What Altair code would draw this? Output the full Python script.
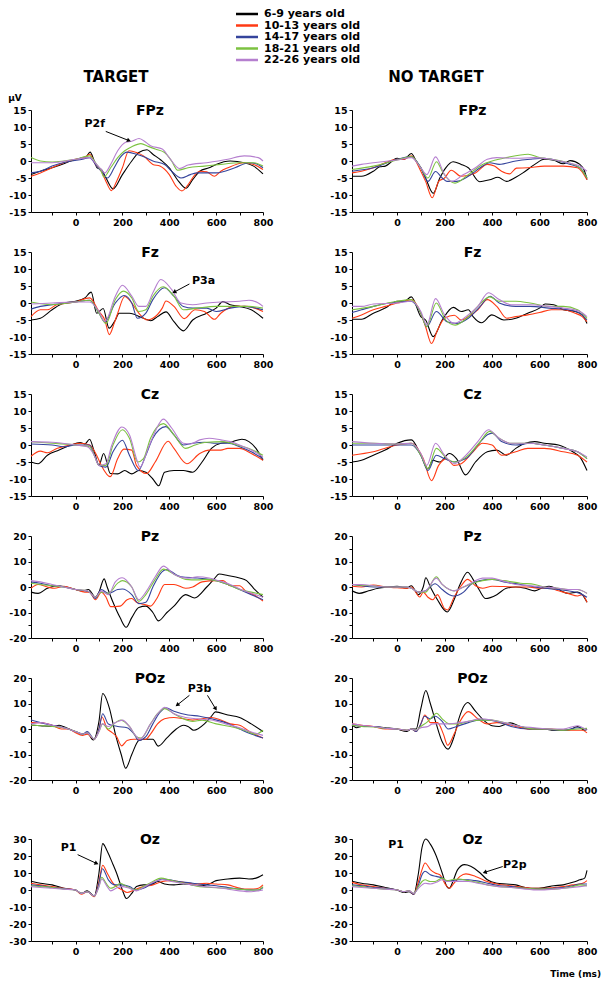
import math
import altair as alt
import pandas as pd

GROUPS = ["6-9 years old", "10-13 years old", "14-17 years old", "18-21 years old", "22-26 years old"]
COLORS = ["#000000", "#ff3a14", "#35449c", "#7cc241", "#b57fcf"]
XTICKS = list(range(-100, 801, 100))

fpz_target = {
    "6-9 years old": [(-190,-4),(-150,-3),(-100,-2),(-50,-0.8),(-20,0),(20,0.8),(45,1.2),(62,2.6),(80,0),(92,-2),(110,-2.5),(130,-5),(160,-8.2),(200,-4),(240,0),(270,2.5),(305,3.3),(330,2),(364,0.3),(400,-2),(440,-6),(471,-8),(500,-5.5),(530,-3),(570,-2),(600,-1),(660,0),(720,-0.5),(760,-1.5),(800,-3.8)],
    "10-13 years old": [(-190,-4.5),(-150,-3.5),(-100,-2),(-50,-0.5),(0,0.5),(40,1),(60,2),(85,-1),(110,-3),(130,-6),(153,-8.7),(175,-6),(200,-2),(228,3),(260,2.5),(290,1.5),(330,-1),(360,-1.5),(400,-4),(430,-7.5),(454,-8.8),(480,-7),(510,-4),(530,-3),(560,-3.2),(593,-4.5),(620,-3),(650,-2),(720,-0.5),(760,-1),(800,-2.5)],
    "14-17 years old": [(-190,-3.5),(-150,-3),(-100,-1.5),(-20,0),(30,0.5),(60,1),(90,-1.5),(110,-3),(136,-5),(165,-2),(190,1),(221,2.6),(260,2),(300,1),(330,0),(380,-1),(410,-3),(450,-5),(490,-4),(520,-3.5),(600,-3.5),(680,-2),(740,-0.5),(770,-0.8),(800,-2)],
    "18-21 years old": [(-190,1),(-150,0),(-100,-0.3),(-50,0),(0,0.5),(60,1.5),(90,-1),(110,-3),(121,-4.7),(150,-2),(180,1),(210,3),(240,4.2),(279,5.1),(310,4.3),(340,3.5),(380,2.5),(410,0),(436,-2.7),(480,-2),(550,-1.5),(620,-1),(700,-0.5),(760,-0.5),(800,-1.5)],
    "22-26 years old": [(-190,-0.5),(-100,-0.5),(0,0.5),(60,1),(90,-1),(110,-2.5),(125,-3.5),(150,-1),(180,3),(214,5.5),(240,5.8),(271,6.6),(300,5.5),(320,4.5),(370,3.5),(400,1),(443,-2.2),(480,-1.2),(560,-0.5),(650,0.5),(720,1.5),(780,1),(800,0)],
}
fpz_nontarget = {
    "6-9 years old": [(-190,-4.5),(-150,-4.5),(-100,-3),(-73,-1.7),(-50,-1.5),(0,0.8),(30,0.5),(60,2.2),(80,0),(100,-2),(120,-5),(152,-9.5),(180,-5),(205,-2),(236,-0.2),(270,-1),(300,-2),(348,-6.1),(390,-5.5),(425,-4.8),(461,-6),(500,-4.8),(530,-3.5),(580,-1),(620,0.5),(660,0.2),(700,-0.8),(729,0.1),(770,-1),(790,-3),(800,-5.5)],
    "10-13 years old": [(-190,-3.5),(-150,-3),(-100,-2),(-50,-0.5),(0,0.5),(30,0.5),(60,1.5),(100,-3),(120,-6),(148,-10.8),(175,-6),(200,-5),(228,-2.7),(270,-4.5),(330,-3.5),(380,-1),(410,-1.5),(440,-3),(474,-3.8),(503,-2.1),(550,-2),(620,-1.5),(700,-1.5),(760,-2),(800,-5.5)],
    "14-17 years old": [(-190,-3),(-100,-2),(0,0.5),(60,1.3),(100,-2),(130,-6),(162,-3.1),(190,-5),(210,-6),(250,-6),(300,-4.5),(350,-2),(390,-0.5),(430,-1),(500,0),(560,0.5),(620,0.8),(680,0),(730,-1),(770,-2),(800,-5)],
    "18-21 years old": [(-190,-2.5),(-100,-1.5),(0,0.3),(60,1.3),(100,-2),(130,-5),(166,-0.2),(190,-3),(210,-5),(244,-6.5),(300,-4),(360,-1),(400,0),(460,1),(552,2),(600,1),(650,0.5),(720,-0.5),(770,-2),(800,-5)],
    "22-26 years old": [(-190,-1.5),(-150,-1),(-100,-0.5),(0,0.3),(60,1),(100,-2),(125,-4),(162,1.2),(200,-4),(230,-6),(280,-4),(330,-2),(380,0.5),(420,1),(500,0.8),(580,1),(650,0.5),(720,-0.5),(770,-1.5),(800,-3)],
}
fz_target = {
    "6-9 years old": [(-190,-5),(-150,-4.5),(-100,-2),(-50,0),(0,0.5),(40,1.5),(67,3.2),(90,-3),(118,-1.6),(143,-7.4),(170,-5),(186,-3),(230,-3),(290,-4.5),(321,-5.2),(350,-4),(386,-2.6),(420,-5.5),(460,-8.2),(500,-5),(560,-3),(600,-1.5),(629,0.4),(660,-0.5),(700,-1),(750,-2),(800,-4.5)],
    "10-13 years old": [(-190,-4),(-150,-2),(-120,-2),(-80,-0.5),(0,0.3),(60,1.5),(100,-2.5),(125,-5),(144,-9.3),(165,-6),(180,-3),(210,1.9),(240,0),(270,-3),(307,-5),(330,-4.5),(370,-1.5),(386,0.6),(420,-1),(464,-4.6),(510,-2),(550,-2.5),(593,-4.8),(620,-3),(680,-1),(730,-1),(800,-2.5)],
    "14-17 years old": [(-190,-1.8),(-150,-1),(-100,-0.5),(0,0.3),(60,0.8),(100,-3),(125,-5.5),(170,0),(207,2.2),(240,0),(264,-4.5),(300,-3),(330,1),(379,4.5),(420,2),(460,-1),(500,-1.5),(560,-1.5),(600,-2.5),(660,-1.5),(720,-1),(800,-2)],
    "18-21 years old": [(-190,0.3),(-100,-0.5),(0,0.3),(60,0.8),(100,-3),(130,-6),(170,1),(205,3.5),(240,1.5),(270,-2.5),(300,-2),(330,2),(375,4.8),(420,2),(460,-2),(520,-1.5),(600,-1),(680,-1),(740,-1),(800,-1.5)],
    "22-26 years old": [(-190,-0.3),(-100,0),(0,0.3),(60,0.3),(100,-2.5),(125,-5.5),(170,2),(200,5.2),(240,2),(270,-1),(300,-1),(330,3),(364,6.9),(410,4),(450,0),(500,-0.5),(560,0),(620,0.3),(700,0.5),(740,0.8),(780,0),(800,-1)],
}
fz_nontarget = {
    "6-9 years old": [(-190,-4.8),(-150,-4.8),(-100,-3),(-50,-1.5),(0,0.5),(30,0.5),(60,1.8),(100,-4),(120,-5),(152,-9.9),(190,-5),(237,-1.3),(270,-2.5),(300,-2),(320,-4),(356,-5.8),(399,-3.5),(450,-5),(500,-4.5),(550,-3),(600,-1.5),(624,-0.3),(660,-0.5),(700,-2),(750,-2.5),(780,-3.5),(800,-6)],
    "10-13 years old": [(-190,-4.5),(-150,-3.5),(-100,-2),(-50,-1),(0,0),(30,0.5),(60,1),(100,-3),(120,-7),(145,-11.9),(170,-8),(200,-4.5),(241,-3.6),(270,-5),(300,-4),(340,-2),(380,1),(420,-1),(462,-4.5),(500,-4),(550,-3.5),(600,-2.8),(650,-2),(700,-2),(750,-3),(780,-4),(800,-5.5)],
    "14-17 years old": [(-190,-2.8),(-150,-2),(-100,-1),(0,0.3),(60,0.5),(100,-3),(125,-7),(165,-2.5),(210,-5.5),(250,-6),(300,-4.5),(350,-1),(392,2),(430,0),(500,-1),(560,-1),(640,-1.5),(720,-2),(770,-3),(800,-5)],
    "18-21 years old": [(-190,-2),(-100,-1),(0,0.5),(60,1),(100,-3),(125,-7),(165,0),(205,-5),(245,-6.5),(300,-4),(340,-1),(390,1.8),(430,0.5),(500,0.5),(560,0),(640,-1),(700,-1),(760,-2),(800,-4.5)],
    "22-26 years old": [(-190,-1),(-150,-1),(-100,-0.3),(0,0),(60,0.5),(100,-2.5),(125,-6.5),(162,1.3),(200,-3.5),(240,-6),(290,-4),(340,-1),(385,3),(430,1),(480,-0.5),(560,-0.5),(640,-1),(700,-1.5),(770,-2.5),(800,-4)],
}
cz_target = {
    "6-9 years old": [(-190,-5),(-160,-5.5),(-120,-3),(-70,-1.5),(-20,0),(20,0.7),(40,0.3),(60,1.7),(80,-2),(100,-6),(120,-2.5),(149,-8.4),(180,-8.5),(210,-7.5),(240,-8.5),(270,-7.5),(300,-8),(330,-10),(355,-12),(380,-8),(420,-7.5),(460,-7.5),(500,-8),(540,-5),(580,-1),(620,0.5),(660,0.8),(710,1.7),(740,1),(770,-1),(800,-4.5)],
    "10-13 years old": [(-190,-3.3),(-150,-1.8),(-120,-2.3),(-80,-1),(-20,0),(20,0.5),(60,0),(90,-3),(110,-6),(148,-9.3),(180,-4),(206,-1.2),(240,-1.5),(260,-6),(303,-8.4),(340,-5),(395,1.1),(420,-1),(475,-5.5),(530,-2.5),(570,-1.5),(620,-1.5),(650,-1),(700,-1),(750,-2.5),(800,-4.5)],
    "14-17 years old": [(-190,0.3),(-100,0),(-50,-0.5),(0,0),(60,0),(80,-3),(100,-6),(130,-6.5),(160,-2),(200,1.4),(230,-3),(268,-7.5),(300,-3),(330,2),(385,5.4),(420,3),(460,0),(500,0.5),(550,0.8),(600,0.5),(650,0.5),(700,-0.5),(750,-2),(800,-4)],
    "18-21 years old": [(-190,1),(-100,0.5),(0,0),(60,-0.5),(80,-3),(100,-6),(130,-6),(160,0),(200,4.5),(230,2),(265,-5),(290,-4),(320,2),(375,6.3),(420,3),(470,-1),(510,0),(560,0.8),(630,1),(690,0),(740,-1),(800,-3)],
    "22-26 years old": [(-190,1),(-100,0.8),(0,0),(50,-0.5),(80,-3),(100,-6),(130,-5.5),(155,0),(198,5.3),(230,3),(260,-4),(275,-6.5),(310,-1),(340,4),(375,7.6),(410,5),(460,0.5),(490,0.3),(530,1.5),(570,2),(620,1.5),(660,1),(700,0),(750,-1.5),(800,-3.5)],
}
cz_nontarget = {
    "6-9 years old": [(-190,-5),(-150,-4.5),(-100,-3),(-50,-1.5),(0,0.5),(60,1.5),(100,-3),(130,-7),(150,-4.5),(180,-5),(220,-2.5),(250,-4),(288,-8.8),(330,-5),(380,-2),(420,-1.5),(460,-3),(500,-1),(540,0.5),(580,1),(620,0.5),(680,0),(740,-2),(770,-3.5),(800,-7.5)],
    "10-13 years old": [(-190,-3),(-100,-2),(0,0),(60,0.5),(110,-4),(145,-10.5),(175,-6),(208,-4),(240,-6),(270,-5.5),(320,-2),(360,0.5),(400,0),(440,-3),(500,-2),(550,-1),(620,-1),(700,-2),(760,-3),(800,-5)],
    "14-17 years old": [(-190,0),(-100,0),(0,0),(60,0),(100,-3),(130,-7.5),(165,-3),(200,-4),(240,-5),(290,-4),(340,0),(380,3),(400,3.5),(440,1),(500,0),(560,0.5),(620,0),(700,-1),(760,-2),(800,-4)],
    "18-21 years old": [(-190,0.5),(-100,0.5),(0,0.3),(60,0.5),(100,-3),(130,-7),(165,-1),(210,-4),(245,-5),(300,-3),(350,1),(390,4),(430,2),(480,0.5),(550,0.5),(620,0),(700,-1),(760,-2),(800,-4)],
    "22-26 years old": [(-190,1),(-100,0.5),(0,0.3),(60,0.5),(100,-2.5),(125,-6),(162,0.5),(200,-3),(240,-5.5),(290,-3),(340,1),(385,4.5),(430,2),(480,0.5),(550,0.5),(620,0),(700,-1),(760,-2),(800,-3.5)],
}
pz_target = {
    "6-9 years old": [(-190,-2),(-160,-2.5),(-120,-0.5),(-80,0.5),(-40,0),(0,-1),(30,-1.5),(55,-1),(85,-4),(100,-2),(122,3.2),(135,0),(160,-6),(190,-12),(216,-15.8),(240,-12),(270,-8),(300,-7.5),(330,-10),(354,-13.3),(390,-10),(420,-7.5),(470,-3),(508,-4.3),(560,0),(590,3),(613,5.1),(650,4.5),(700,3.5),(730,2.5),(760,-0.5),(800,-4)],
    "10-13 years old": [(-190,-0.5),(-160,1),(-120,0),(-90,-0.5),(-50,0.3),(0,-1),(40,-2),(60,-2),(85,-5),(110,-2),(130,-4),(150,-7.7),(190,-7.5),(220,-5),(240,-4.5),(260,-6),(300,-7),(320,-7.5),(350,-4),(380,1),(420,1),(470,-0.5),(500,0),(540,2),(600,2.5),(630,2.5),(660,0.5),(700,0.5),(730,-2),(760,-3),(800,-5.5)],
    "14-17 years old": [(-190,2),(-150,1.5),(-100,0.5),(-50,0),(0,-1),(40,-1.5),(60,-2),(85,-4.5),(110,-1),(140,-2.5),(180,-1),(200,-0.8),(240,-3),(270,-6.5),(300,-6),(330,0),(370,6),(385,6.8),(450,4),(520,3.5),(570,3),(600,2.5),(650,1),(700,-1),(750,-3),(800,-5)],
    "18-21 years old": [(-190,1.5),(-150,1),(-100,0.5),(-50,0),(0,-1),(50,-1.5),(85,-4),(110,-2),(140,-2.5),(180,1.5),(200,2.5),(240,0),(270,-5.6),(300,-3),(340,3),(375,7),(420,5),(470,3),(520,2.8),(560,3),(600,2.5),(650,1),(700,-1),(750,-2),(800,-3)],
    "22-26 years old": [(-190,2.5),(-150,2),(-100,1),(-50,0),(0,-1),(50,-1.5),(85,-4),(110,-1.5),(140,-3),(170,2),(199,3.6),(240,0),(270,-5),(300,-2),(340,4),(375,8.2),(420,5),(480,3.5),(520,4),(570,3.5),(610,2.5),(660,1),(720,-1.5),(770,-3),(800,-4)],
}
pz_nontarget = {
    "6-9 years old": [(-190,-1.5),(-160,-2.5),(-120,-1.5),(-80,-0.5),(-40,0),(0,0.3),(40,-0.5),(60,0.5),(90,-3),(110,0),(121,3.6),(140,0),(170,-5),(211,-9.8),(240,-5),(265,1),(297,5.8),(320,3),(345,-1),(373,-4.5),(420,-3),(460,-0.5),(500,0),(540,-0.5),(580,-1.5),(620,0),(640,0.3),(680,-1),(720,-2.5),(760,-2),(780,-3),(800,-6)],
    "10-13 years old": [(-190,0.3),(-150,0),(-100,0.8),(-50,0),(0,-0.3),(40,-0.5),(60,0),(96,-3.9),(110,-2),(130,-4),(150,-5),(170,-3),(200,-8.5),(212,-9),(240,-4),(270,0.5),(297,3),(330,0.5),(360,-0.5),(400,0.3),(450,0.2),(500,0),(550,0),(600,-0.5),(640,-0.5),(680,-1.5),(720,-2.5),(760,-3.5),(780,-3),(800,-6)],
    "14-17 years old": [(-190,1),(-150,0.5),(-100,0),(-50,0),(0,0),(40,0),(60,-0.5),(90,-2),(120,-1.5),(160,1.3),(190,-1),(220,-3),(240,-3.5),(280,-2),(310,1),(350,2.5),(400,3),(450,2),(520,1),(580,0),(620,-0.5),(680,-1),(720,-1.5),(770,-2.5),(800,-4)],
    "18-21 years old": [(-190,1),(-150,0.7),(-100,0.5),(-50,0),(0,0),(40,0),(60,-0.5),(90,-2),(120,-2),(165,4),(190,1),(220,-1),(240,-1.5),(280,0),(320,1.5),(360,2.5),(400,3),(450,2.5),(520,1.5),(580,1),(620,0),(680,-0.5),(720,-1),(760,-1),(800,-2.5)],
    "22-26 years old": [(-190,1),(-150,1),(-100,0.5),(-50,0),(0,0),(40,0),(60,-0.5),(90,-2),(120,-1.5),(165,3.5),(190,1),(220,-1),(240,-1.5),(280,0),(320,2),(360,3.5),(400,3.5),(440,2.5),(500,1),(560,0.5),(620,0),(680,-0.5),(720,-1),(760,-1),(800,-2.5)],
}
poz_target = {
    "6-9 years old": [(-190,1.5),(-150,1.3),(-100,1),(-70,1.5),(-40,0.5),(0,-1),(30,-2),(50,-1.5),(76,-4.3),(100,3),(116,13.9),(145,8),(170,-2),(195,-10),(214,-15.4),(240,-10),(270,-4.5),(300,-4),(330,-4),(353,-6.7),(390,-3.5),(430,0),(460,1.5),(480,1),(505,-0.5),(550,2),(580,5),(597,6.7),(650,5.5),(700,4.5),(750,2),(800,-1)],
    "10-13 years old": [(-190,2.5),(-150,2.5),(-100,1.5),(-60,0),(-30,0),(0,-1.5),(30,-2.5),(50,-2),(80,-4),(100,0),(113,4.7),(135,0),(150,-1),(175,-3),(197,-6.6),(220,-4.5),(250,-4),(300,-4),(320,-2),(350,2),(380,4),(420,4.5),(460,4),(500,3.5),(540,4),(580,4.5),(620,3.5),(660,2),(700,1.5),(750,-1.5),(800,-3.5)],
    "14-17 years old": [(-190,3.5),(-150,2.5),(-100,1.5),(-50,0.5),(0,-1),(30,-2),(50,-1),(80,-4),(100,0),(116,6),(140,2),(180,1),(220,0.5),(250,-2),(270,-4.5),(300,-3),(330,2),(360,6.5),(385,8.3),(420,7),(480,5.5),(530,5),(580,4),(640,2.5),(700,0),(750,-2),(800,-3.5)],
    "18-21 years old": [(-190,1.5),(-150,1.3),(-100,1),(-50,0.5),(0,-1),(30,-2),(50,-1.5),(80,-4),(100,-1),(115,2),(140,0),(170,2.5),(194,3.5),(230,1),(260,-3),(280,-3.5),(320,2),(350,6),(380,8),(420,6),(460,4),(500,3),(540,3.5),(600,2),(660,1),(720,-0.5),(770,-2),(800,-0.5)],
    "22-26 years old": [(-190,2),(-150,2.5),(-100,1.5),(-50,0.5),(0,-1),(30,-2),(50,-1.5),(80,-4),(100,-1),(115,2),(140,1),(170,2.5),(200,3.5),(230,1),(260,-3),(275,-4),(320,2),(360,7),(380,8.5),(420,6),(470,4.5),(520,4),(580,3.5),(640,2),(700,0.5),(760,-1.5),(800,-2.5)],
}
poz_nontarget = {
    "6-9 years old": [(-190,1.5),(-170,0.5),(-150,1),(-100,1),(-50,0.5),(0,0),(40,-1),(60,0),(80,0),(100,8),(121,15.1),(140,10),(165,2),(190,-5),(215,-7.9),(240,-3),(260,4),(285,9.5),(297,10.4),(330,7),(370,3),(400,1.3),(430,1),(460,2),(476,2.4),(520,1),(560,0),(620,0),(660,-0.5),(720,-0.5),(760,1),(790,-0.5),(800,0)],
    "10-13 years old": [(-190,2),(-150,1.5),(-100,1),(-50,0),(0,0),(40,-0.5),(60,0),(80,-1),(100,2),(117,5.5),(140,2.5),(170,2.5),(195,-2),(213,-6.4),(240,-2),(265,3),(300,6.8),(340,4),(380,2),(420,2.5),(460,2),(500,1),(560,0),(600,0),(650,0),(700,-0.5),(750,-0.5),(780,-0.5),(800,-1.5)],
    "14-17 years old": [(-190,1.8),(-150,1),(-100,1),(-50,0.3),(0,0),(40,-0.5),(60,0),(80,-1),(100,2),(115,5),(140,4),(160,5),(190,3),(215,0),(250,1),(300,2.5),(340,3.5),(380,3.5),(420,3),(480,1),(560,0),(620,0),(700,-0.5),(760,0.5),(800,0)],
    "18-21 years old": [(-190,1.5),(-150,1),(-100,0.8),(-50,0.3),(0,0),(40,-0.5),(60,0),(80,-0.5),(100,1),(130,3),(150,5),(166,6.2),(190,4),(220,2),(260,2),(300,3),(350,3.5),(400,3.5),(450,2.5),(520,1),(580,0),(640,0),(700,-0.5),(760,0),(800,0.3)],
    "22-26 years old": [(-190,2),(-150,1.5),(-100,1),(-50,0.3),(0,0),(40,-0.5),(60,0),(80,-0.5),(100,0.5),(130,1),(150,2),(180,2),(210,2),(250,2.3),(300,3),(350,4),(400,3.5),(450,2.5),(520,1),(580,0.5),(640,0),(700,0),(760,1.3),(800,-0.5)],
}
oz_target = {
    "6-9 years old": [(-190,5.2),(-150,4),(-100,3),(-50,1),(0,0),(25,-2),(50,-0.5),(80,-3.5),(100,10),(116,27.3),(135,23),(160,15),(175,10),(200,0),(217,-5),(240,-2),(260,2),(290,3),(320,3),(350,5),(380,3.5),(420,3),(460,3.5),(500,3),(540,2.5),(570,3.5),(600,5.5),(650,6.5),(700,7),(740,6.5),(770,7),(800,9)],
    "10-13 years old": [(-190,4),(-150,3),(-100,2),(-50,1),(0,0),(25,-2.5),(50,-1),(80,-4),(100,5),(116,14.6),(135,10),(160,4),(180,1.5),(200,0),(220,-1.5),(250,0),(290,2),(330,3),(370,5),(400,5.5),(440,5),(480,4),(520,3.5),(560,4),(600,3.5),(650,3),(690,1.5),(720,0.5),(750,0.5),(780,1),(800,3)],
    "14-17 years old": [(-190,3),(-150,2.5),(-100,1.5),(-50,0.8),(0,0),(25,-2),(50,-1),(80,-3.5),(100,4),(115,12.5),(140,6),(170,3),(200,3),(230,2),(260,0),(290,1),(330,4),(370,6.5),(400,6),(440,5),(500,4),(560,3),(600,2.5),(650,1.5),(700,0.5),(750,0),(780,0),(800,1.5)],
    "18-21 years old": [(-190,2.5),(-150,2),(-100,1.5),(-50,0.5),(0,0),(25,-2),(50,-1),(80,-3.5),(100,2),(112,7.5),(130,4),(150,1),(180,3),(190,4),(220,2),(260,0),(290,2),(330,5),(365,7),(400,6),(440,4.5),(480,3.5),(530,2),(580,1.5),(640,1),(700,0.5),(750,0),(780,0),(800,2)],
    "22-26 years old": [(-190,2),(-150,1.5),(-100,1),(-50,0.5),(0,0),(25,-2),(50,-1),(80,-3.5),(100,2),(112,6.5),(135,2),(150,-0.5),(180,1.5),(200,2),(230,1),(260,-0.5),(290,1.5),(330,4.5),(370,6),(410,5),(450,4),(500,3),(550,2),(600,1.5),(650,0.5),(700,-0.5),(750,-1),(780,-0.5),(800,0)],
}
oz_nontarget = {
    "6-9 years old": [(-190,5.2),(-150,4),(-100,3),(-50,1.5),(0,0),(30,-1.5),(50,-1),(70,-2.5),(90,10),(105,25),(121,30),(140,27),(165,20),(190,10),(210,2),(220,1),(235,5),(255,12),(284,14.9),(310,14),(350,10),(380,6),(420,4),(460,3.5),(500,3),(540,1.5),(580,1),(620,1.5),(660,2.5),(700,3),(740,4.5),(770,6),(790,7),(800,11.5)],
    "10-13 years old": [(-190,4.5),(-150,3),(-100,2),(-50,1),(0,0),(30,-1),(50,-0.5),(70,-2.5),(90,5),(105,12),(118,15.9),(140,12),(160,10),(180,9),(205,3),(220,1),(240,4),(265,8),(290,9.5),(330,8),(370,5.5),(420,3.5),(480,2.5),(540,1.5),(580,1),(620,1),(660,1.5),(700,2),(740,3),(770,3.5),(790,4.5),(800,5.5)],
    "14-17 years old": [(-190,3),(-150,2.5),(-100,1.5),(-50,1),(0,0),(30,-1),(50,-0.5),(70,-2.5),(90,3),(105,9),(118,11),(140,9),(165,8),(190,7),(210,5),(230,5.5),(260,6),(300,6),(330,5.5),(380,4),(430,2.5),(480,2),(540,1),(600,0.5),(660,1),(700,1.5),(740,2.5),(770,3.5),(800,3.5)],
    "18-21 years old": [(-190,2.5),(-150,2),(-100,1),(-50,0.5),(0,0),(30,-1),(50,-0.5),(70,-2),(90,2),(105,5),(118,6),(140,5),(160,5),(190,7),(210,5.5),(230,6),(260,6.5),(300,5.5),(340,4.5),(380,3),(430,2),(480,1.5),(540,1),(600,0.5),(660,0.5),(700,1),(740,2),(770,3),(800,2.5)],
    "22-26 years old": [(-190,2),(-150,1.5),(-100,1),(-50,0.5),(0,0),(30,-1),(50,-0.5),(70,-2),(90,1),(105,3),(118,4),(140,3.5),(165,4.5),(190,6),(210,5),(230,5),(260,5),(300,5),(340,4),(380,3),(430,2),(480,1.5),(540,0.5),(600,0),(660,0.5),(700,1),(740,1.5),(770,2),(800,2.5)],
}

# annotation labels (label, time ms, amplitude µV) and arrows (t1, v1, t2, v2)
notes_fpz_t = [("P2f", 82, 10.8)]
arrows_fpz_t = [(129, 8.7, 228, 6.0)]
notes_fz_t = [("P3a", 546, 6.5)]
arrows_fz_t = [(486, 5.6, 421, 3.2)]
notes_poz_t = [("P3b", 529, 15.5)]
arrows_poz_t = [(486, 13.2, 434, 9.4), (563, 13.2, 598, 7.9)]
notes_oz_t = [("P1", -30, 24.8)]
arrows_oz_t = [(9, 20.8, 90, 15.6)]
notes_oz_n = [("P1", -4, 26.5), ("P2p", 496, 15)]
arrows_oz_n = [(445, 13.8, 369, 10.4)]

WL = 232
WR = 235
H = 102
GAP = 89
FONT = "DejaVu Sans"
color_scale = alt.Scale(domain=GROUPS, range=COLORS)


def label_layer(text, x, y, size, align="center"):
    return alt.Chart(pd.DataFrame({"lab": [text]})).mark_text(
        fontSize=size, fontWeight="bold", align=align, baseline="middle", color="black"
    ).encode(text="lab:N", x=alt.value(x), y=alt.value(y))


def panel(series, name, ymax, step, minor, W, notes=(), arrows=(), extras=(), legend=False):
    rows = []
    for g in GROUPS:
        for t, v in series[g]:
            rows.append({"group": g, "t": t, "v": v})
    df = pd.DataFrame(rows)
    xs = alt.Scale(domain=[-190, 800], nice=False, zero=False)
    ys = alt.Scale(domain=[-ymax, ymax], nice=False, zero=False)
    xax = alt.Axis(values=XTICKS, title=None, grid=False, labelFlush=False, labelOverlap=False,
                   labelExpr="datum.value >= 0 && datum.value % 200 == 0 ? '' + datum.value : ''")
    yax = alt.Axis(values=list(range(-ymax, ymax + 1, minor)), title=None, grid=False, labelOverlap=False,
                   labelExpr=f"datum.value % {step} == 0 ? '' + datum.value : ''")
    X = lambda f: alt.X(f, scale=xs, axis=xax, title=None)
    Y = lambda f: alt.Y(f, scale=ys, axis=yax, title=None)
    layers = [
        alt.Chart(df).mark_line(strokeWidth=1.1, interpolate="monotone").encode(
            x=X("t:Q"), y=Y("v:Q"),
            color=alt.Color("group:N", scale=color_scale, legend=None),
        ),
        label_layer(name, W / 2 + 3, 1, 14),
    ]
    if notes:
        ndf = pd.DataFrame(list(notes), columns=["label", "t", "v"])
        layers.append(alt.Chart(ndf).mark_text(fontSize=11, fontWeight="bold", color="black").encode(
            x=X("t:Q"), y=Y("v:Q"), text="label:N"))
    if arrows:
        kx = W / 990.0
        ky = H / (2.0 * ymax)
        recs = []
        for t1, v1, t2, v2 in arrows:
            dx = (t2 - t1) * kx
            dy = -(v2 - v1) * ky
            ang = math.degrees(math.atan2(dx, -dy)) % 360
            recs.append({"t": t1, "v": v1, "t2": t2, "v2": v2, "ang": ang})
        adf = pd.DataFrame(recs)
        layers.append(alt.Chart(adf).mark_rule(strokeWidth=1, color="black").encode(
            x=X("t:Q"), y=Y("v:Q"), x2="t2:Q", y2="v2:Q"))
        layers.append(alt.Chart(adf).mark_point(shape="triangle-up", filled=True, size=22, color="black",
                                                opacity=1).encode(
            x=X("t2:Q"), y=Y("v2:Q"), angle=alt.Angle("ang:Q", scale=None)))
    layers.extend(extras)
    chart = alt.layer(*layers)
    if legend:
        legend_df = pd.DataFrame({"group": GROUPS})
        gy = alt.Y("group:N", scale=alt.Scale(type="point", domain=GROUPS, range=[-96, -50], padding=0),
                   axis=None)
        leg_lines = alt.Chart(legend_df).mark_rule(strokeWidth=2.5).encode(
            x=alt.value(205), x2=alt.value(227), y=gy,
            color=alt.Color("group:N", scale=color_scale, legend=None))
        leg_text = alt.Chart(legend_df).mark_text(
            align="left", baseline="middle", fontSize=11, fontWeight="bold", color="black"
        ).encode(x=alt.value(233), y=gy, text="group:N")
        chart = alt.layer(chart, leg_lines, leg_text).resolve_scale(y="independent")
    return chart.properties(width=W, height=H)


row1 = alt.hconcat(
    panel(fpz_target, "FPz", 15, 5, 5, WL, notes_fpz_t, arrows_fpz_t,
          extras=[label_layer("TARGET", 85, -33, 15), label_layer("µV", -16, -12, 9)], legend=True),
    panel(fpz_nontarget, "FPz", 15, 5, 5, WR, extras=[label_layer("NO TARGET", 84, -33, 15)]),
    spacing=GAP, bounds="flush")
row2 = alt.hconcat(panel(fz_target, "Fz", 15, 5, 5, WL, notes_fz_t, arrows_fz_t),
                   panel(fz_nontarget, "Fz", 15, 5, 5, WR), spacing=GAP, bounds="flush")
row3 = alt.hconcat(panel(cz_target, "Cz", 15, 5, 5, WL),
                   panel(cz_nontarget, "Cz", 15, 5, 5, WR), spacing=GAP, bounds="flush")
row4 = alt.hconcat(panel(pz_target, "Pz", 20, 10, 5, WL),
                   panel(pz_nontarget, "Pz", 20, 10, 5, WR), spacing=GAP, bounds="flush")
row5 = alt.hconcat(panel(poz_target, "POz", 20, 10, 5, WL, notes_poz_t, arrows_poz_t),
                   panel(poz_nontarget, "POz", 20, 10, 5, WR), spacing=GAP, bounds="flush")
row6 = alt.hconcat(
    panel(oz_target, "Oz", 30, 10, 10, WL, notes_oz_t, arrows_oz_t),
    panel(oz_nontarget, "Oz", 30, 10, 10, WR, notes_oz_n, arrows_oz_n,
          extras=[label_layer("Time (ms)", WR + 14, H + 33, 9, align="right")]),
    spacing=GAP, bounds="flush")

top = alt.vconcat(row1, row2, row3, row4, row5, spacing=19)
chart = alt.vconcat(top, row6, spacing=38).properties(
    padding={"left": 0, "top": 0, "right": 0, "bottom": 0}
).configure(font=FONT).configure_view(stroke=None).configure_axis(
    domainColor="black", domainWidth=1, tickColor="black", tickSize=3, tickWidth=1,
    labelFont=FONT, labelFontSize=9.5, labelFontWeight="bold", labelColor="black", labelPadding=2
).configure_text(font=FONT)

chart.save("out.html", embed_options={"renderer": "svg", "actions": False})
